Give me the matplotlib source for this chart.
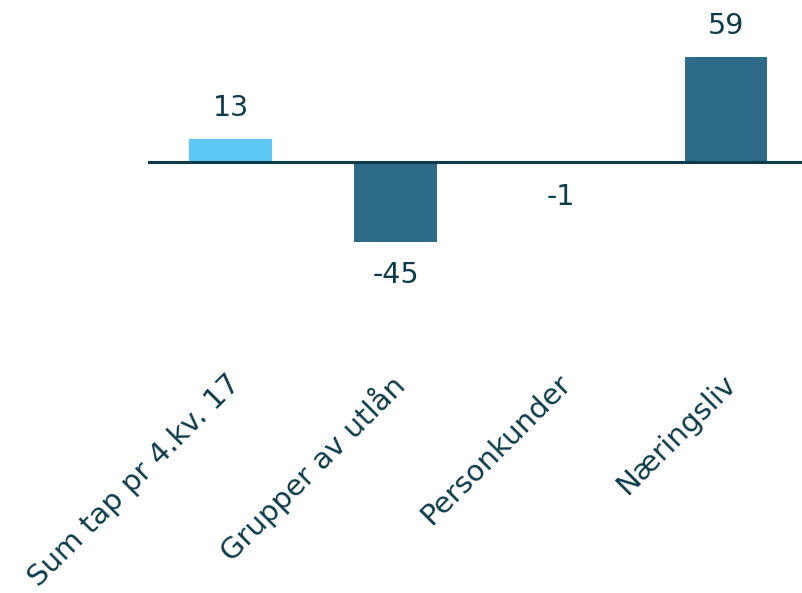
import matplotlib.pyplot as plt

categories = ["Sum tap pr 4.kv. 17", "Grupper av utlån", "Personkunder", "Næringsliv"]
values = [13, -45, -1, 59]
bar_colors = ["#5BC8F5", "#2E6B88", "#2E6B88", "#2E6B88"]
text_color = "#0D3B4A"

fig = plt.figure(figsize=(8.02, 5.93), dpi=100)
ax = fig.add_axes([148 / 802, 0.391, 1 - 148 / 802, 0.561])

x = list(range(len(values)))
ax.bar(x, values, width=0.5, color=bar_colors, zorder=2)
ax.axhline(0, color=text_color, linewidth=2.2, zorder=3)

for xi, v in zip(x, values):
    if v >= 0:
        ax.annotate(str(v), (xi, v), xytext=(0, 12), textcoords="offset points",
                    ha="center", va="bottom", fontsize=20.5, color=text_color)
    else:
        ax.annotate(str(v), (xi, v), xytext=(0, -14), textcoords="offset points",
                    ha="center", va="top", fontsize=20.5, color=text_color)

# category labels, rotated, placed under the axes
for xi, cat in zip(x, categories):
    ax.annotate(cat, (xi, 0), xycoords=ax.get_xaxis_transform(),
                xytext=(11, -6), textcoords="offset points",
                rotation=45, ha="right", va="top",
                fontsize=21, color=text_color, annotation_clip=False)

ax.set_xlim(-0.5, 3.46)
ax.set_ylim(-112, 75)
ax.set_xticks([])
ax.set_yticks([])
for s in ax.spines.values():
    s.set_visible(False)

fig.savefig("out.png", dpi=100)
